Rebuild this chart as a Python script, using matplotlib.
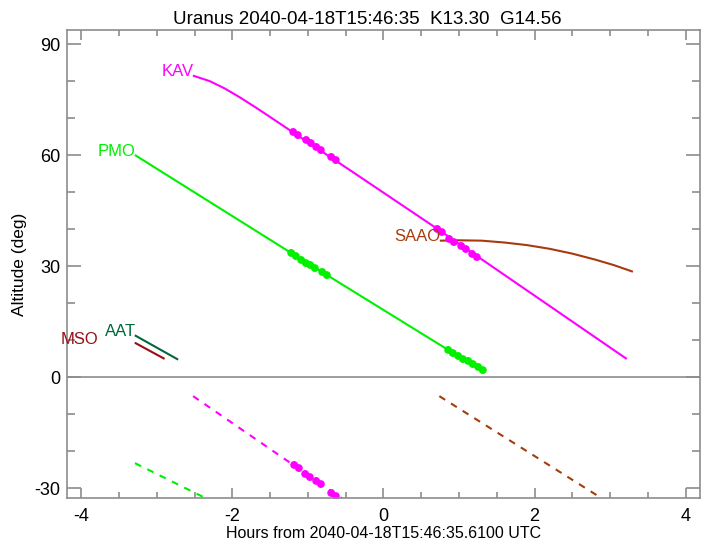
import matplotlib
matplotlib.use("Agg")
import matplotlib.pyplot as plt
from matplotlib.path import Path
from matplotlib.ticker import MultipleLocator

plt.rcParams["font.family"] = ["Liberation Sans", "DejaVu Sans"]
plt.rcParams["axes.unicode_minus"] = False

TITLE = "Uranus 2040-04-18T15:46:35  K13.30  G14.56"
XLABEL = "Hours from 2040-04-18T15:46:35.6100 UTC"
YLABEL = "Altitude (deg)"

# solid tracks: hours from reference time, altitude in deg
kav_hours = [-2.51, -2.30, -2.10, -1.90, -1.70, -1.50, -1.23, -0.44, 0.72, 3.21]
kav_alt = [81.4, 80.0, 78.0, 75.6, 73.0, 70.3, 66.6, 55.9, 40.0, 5.1]
pmo_hours = [-3.28, -1.20, 0.88, 1.31]
pmo_alt = [59.9, 33.3, 7.1, 1.9]
saao_hours = [0.76, 1.00, 1.30, 1.60, 1.90, 2.20, 2.50, 2.80, 3.05, 3.29]
saao_alt = [36.9, 37.0, 36.9, 36.4, 35.7, 34.7, 33.4, 31.8, 30.3, 28.6]
aat_hours = [-3.28, -2.73]
aat_alt = [11.2, 4.9]
mso_hours = [-3.28, -2.91]
mso_alt = [9.2, 5.1]

# dashed tracks
kav_dash_hours = [-2.52, -0.55]
kav_dash_alt = [-5.1, -32.7]
pmo_dash_hours = [-3.29, -2.35]
pmo_dash_alt = [-23.2, -32.7]
saao_dash_hours = [0.74, 2.89]
saao_dash_alt = [-5.1, -32.7]

# marked epochs
kav_mark_hours = [-1.17, -1.00, -0.86, -0.67, 0.73, 0.90, 1.05, 1.20]
kav_mark_alt = [66.0, 63.9, 61.8, 59.1, 39.7, 37.2, 35.2, 32.9]
pmo_mark_hours = [-1.20, -1.07, -0.95, -0.79, 0.88, 1.02, 1.15, 1.28]
pmo_mark_alt = [33.3, 31.5, 30.1, 28.1, 7.1, 5.6, 4.1, 2.6]
kav_dash_mark_hours = [-1.16, -1.01, -0.86, -0.67]
kav_dash_mark_alt = [-24.1, -26.4, -28.3, -31.4]

KAV_C = "#ff00ff"
PMO_C = "#00f000"
SAAO_C = "#a63c0e"
AAT_C = "#00693a"
MSO_C = "#960f14"
GREY = "#8c8c8c"

# two overlapping dots, like the reference's doubled markers
blob = Path.make_compound_path(
    Path.circle((-0.27, 0.18), 0.45),
    Path.circle((0.27, -0.18), 0.45),
)

fig = plt.figure(figsize=(7.08, 5.42), dpi=100)
ax = fig.add_axes([0.0946, 0.0806, 0.894, 0.864])

ax.axhline(0.0, color=GREY, linewidth=1.2, zorder=1)

dash = (0, (3.3, 3.3))
ax.plot(kav_hours, kav_alt, color=KAV_C, linewidth=1.5)
ax.plot(pmo_hours, pmo_alt, color=PMO_C, linewidth=1.5)
ax.plot(saao_hours, saao_alt, color=SAAO_C, linewidth=1.5)
ax.plot(aat_hours, aat_alt, color=AAT_C, linewidth=1.5)
ax.plot(mso_hours, mso_alt, color=MSO_C, linewidth=1.5)
ax.plot(kav_dash_hours, kav_dash_alt, color=KAV_C, linewidth=1.5, linestyle=dash)
ax.plot(pmo_dash_hours, pmo_dash_alt, color=PMO_C, linewidth=1.5, linestyle=dash)
ax.plot(saao_dash_hours, saao_dash_alt, color=SAAO_C, linewidth=1.5, linestyle=dash)

ax.plot(kav_mark_hours, kav_mark_alt, linestyle="none", marker=blob, markersize=9,
        color=KAV_C, markeredgewidth=0)
ax.plot(pmo_mark_hours, pmo_mark_alt, linestyle="none", marker=blob, markersize=9,
        color=PMO_C, markeredgewidth=0)
ax.plot(kav_dash_mark_hours, kav_dash_mark_alt, linestyle="none", marker=blob, markersize=9,
        color=KAV_C, markeredgewidth=0)

lab = dict(fontsize=12, ha="right", va="baseline")
ax.text(kav_hours[0], kav_alt[0], "KAV", color=KAV_C, **lab)
ax.text(pmo_hours[0], pmo_alt[0], "PMO", color=PMO_C, **lab)
ax.text(saao_hours[0], saao_alt[0], "SAAO", color=SAAO_C, **lab)
ax.text(aat_hours[0], aat_alt[0], "AAT", color=AAT_C, **lab)
ax.text(-3.77, mso_alt[0] - 0.3, "MSO", color=MSO_C, **lab)

ax.set_xlim(-4.19, 4.19)
ax.set_ylim(-32.7, 93.8)
ax.xaxis.set_major_locator(MultipleLocator(2))
ax.xaxis.set_minor_locator(MultipleLocator(0.5))
ax.yaxis.set_major_locator(MultipleLocator(30))
ax.yaxis.set_minor_locator(MultipleLocator(10))

for sp in ax.spines.values():
    sp.set_color(GREY)
    sp.set_linewidth(1.2)
ax.tick_params(which="both", direction="in", top=True, right=True, color=GREY, width=1.2,
               labelsize=13)
ax.tick_params(axis="x", which="major", length=7, pad=7)
ax.tick_params(axis="x", which="minor", length=4)
ax.tick_params(axis="y", which="major", length=10, pad=5)
ax.tick_params(axis="y", which="minor", length=6)

ax.set_xlabel(XLABEL, fontsize=11.5, labelpad=1)
ax.set_ylabel(YLABEL, fontsize=12.5, labelpad=5)
fig.text(0.519, 0.9557, TITLE, fontsize=13.5, ha="center", va="baseline")

fig.savefig("out.png", dpi=100)
